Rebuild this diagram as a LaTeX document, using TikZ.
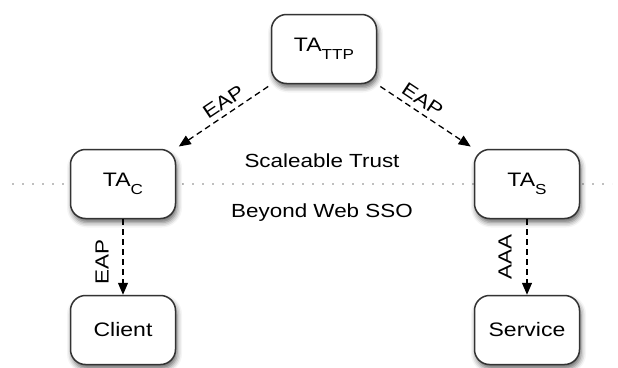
\documentclass[tikz,border=0pt]{standalone}
\usepackage{fontspec}
\setmainfont[FakeStretch=1.18]{Liberation Sans}
\usetikzlibrary{arrows.meta,shadows.blur}
\newcommand\subtxt[1]{\raisebox{-8pt}{\fontsize{14.5}{16}\selectfont #1}}
\begin{document}
\begin{tikzpicture}[x=1pt,y=-1pt,
  box/.style={draw=black!80, line width=1.5pt, fill=white, rounded corners=15pt,
    minimum width=105pt, minimum height=69pt, inner sep=0pt,
    font=\fontsize{19.5}{22}\selectfont,
    blur shadow={shadow xshift=1.5pt, shadow yshift=-4pt, shadow blur radius=5pt, shadow opacity=60}},
  link/.style={line width=1.3pt, dash pattern=on 6pt off 4pt,
    -{Triangle[length=12pt,width=10pt]}},
  lbl/.style={font=\fontsize{19}{22}\selectfont, inner sep=1pt},
  dotline/.style={gray!50, line width=1.4pt, dash pattern=on 1.6pt off 8.4pt}
]
\useasboundingbox (0,0) rectangle (618,367);
\coordinate (dl) at (12,184);
\coordinate (dr) at (612,184);
\draw[dotline] (dl) -- (dr);

\node[box] (ttp) at (324,49) {TA\subtxt{TTP}};
\node[box] (tac) at (123,184) {TA\subtxt{C}};
\node[box] (tas) at (527,184) {TA\subtxt{S}};
\node[box] (client) at (123,330) {Client};
\node[box] (service) at (527,330) {Service};

\node[lbl, anchor=base] (t1) at (322,167) {Scaleable Trust};
\node[lbl, anchor=base] (t2) at (322,217) {Beyond Web SSO};

\draw[link, shorten <=4pt, shorten >=4pt] (ttp) -- node[lbl, sloped, above=4pt, pos=0.43] {EAP} (tac);
\draw[link, shorten <=4pt, shorten >=4pt] (ttp) -- node[lbl, sloped, above=4pt, pos=0.40] {EAP} (tas);
\draw[link] (tac) -- node[lbl, pos=0.57, xshift=-21pt, rotate=90] {EAP} (client);
\draw[link] (tas) -- node[lbl, pos=0.50, xshift=-22pt, rotate=90] {AAA} (service);
\end{tikzpicture}
\end{document}
